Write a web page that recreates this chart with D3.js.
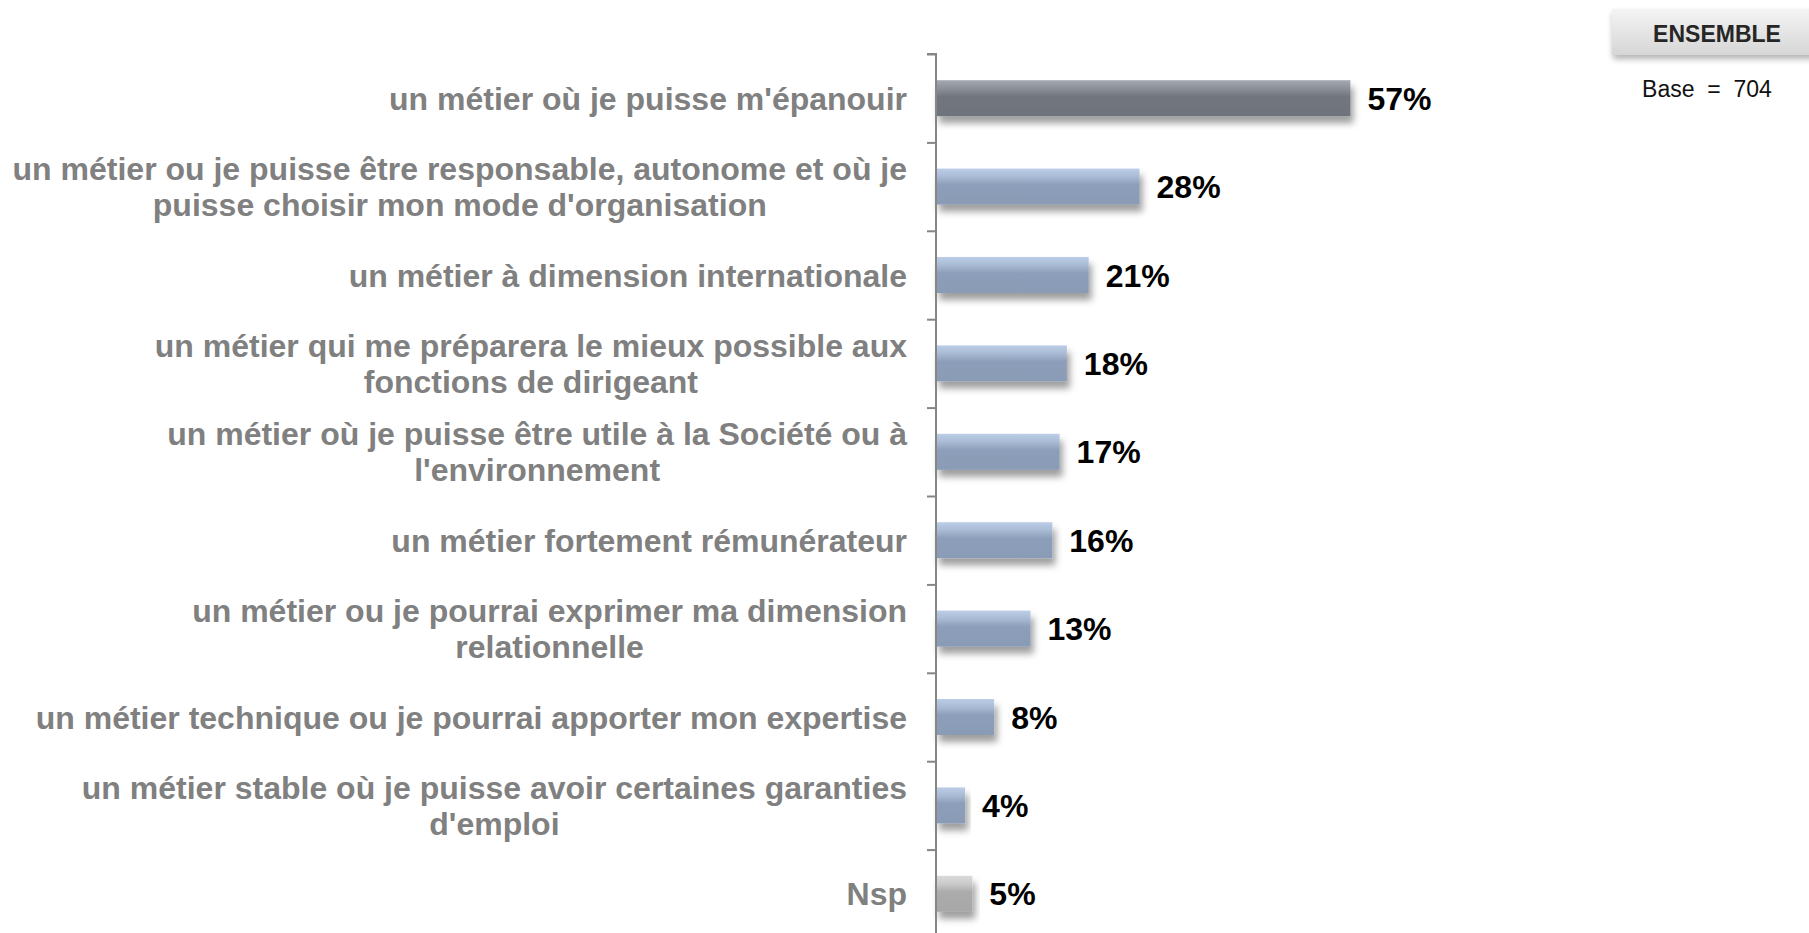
<!DOCTYPE html>
<html>
<head>
<meta charset="utf-8">
<script src="https://cdn.jsdelivr.net/npm/d3@7"></script>
<style>
  html, body { margin: 0; padding: 0; background: #ffffff; }
  svg { display: block; }
  text { font-family: "Liberation Sans", Arial, sans-serif; }
</style>
</head>
<body>
<svg id="chart" width="1809" height="933"></svg>
<script>
// ---- Data ----
const categories = [
  "un métier où je puisse m'épanouir",
  "un métier ou je puisse être responsable, autonome et où je\npuisse choisir mon mode d'organisation",
  "un métier à dimension internationale",
  "un métier qui me préparera le mieux possible aux\nfonctions de dirigeant",
  "un métier où je puisse être utile à la Société ou à\nl'environnement",
  "un métier fortement rémunérateur",
  "un métier ou je pourrai exprimer ma dimension\nrelationnelle",
  "un métier technique ou je pourrai apporter mon expertise",
  "un métier stable où je puisse avoir certaines garanties\nd'emploi",
  "Nsp"
];
const values = [57, 28, 21, 18, 17, 16, 13, 8, 4, 5];
const valueLabels = ["57%", "28%", "21%", "18%", "17%", "16%", "13%", "8%", "4%", "5%"];
const headerLabel = "ENSEMBLE";
const baseLabel = "Base  =  704";

// ---- Layout ----
const svg = d3.select("#chart");
const axisX = 936;
const plotTop = 54;
const step = 88.4;
const plotBottom = plotTop + step * categories.length;

const x = d3.scaleLinear().domain([0, 100]).range([axisX, axisX + 727]);
const y = d3.scaleBand().domain(d3.range(categories.length)).range([plotTop, plotBottom]).padding(0);
const yIdx = d3.scaleLinear().domain([0, categories.length]).range([plotTop, plotBottom]);
const barH = 36;

// ---- Defs ----
const defs = svg.append("defs");
function grad(id, stops) {
  const g = defs.append("linearGradient").attr("id", id)
    .attr("x1", 0).attr("y1", 0).attr("x2", 0).attr("y2", 1);
  stops.forEach(s => g.append("stop").attr("offset", s[0]).attr("stop-color", s[1]));
}
grad("gBlue", [[0, "#bccde8"], [0.22, "#aabbd6"], [0.45, "#8d9eba"], [1, "#8a9bb6"]]);
grad("gDark", [[0, "#a3a8b1"], [0.22, "#8c919a"], [0.45, "#71767f"], [1, "#6e737c"]]);
grad("gGray", [[0, "#dadada"], [0.22, "#cbcbcb"], [0.45, "#ababab"], [1, "#a8a8a8"]]);
grad("gBox", [[0, "#f4f4f4"], [1, "#d6d6d6"]]);

const f = defs.append("filter").attr("id", "shadow")
  .attr("x", "-10%").attr("y", "-30%").attr("width", "130%").attr("height", "180%");
f.append("feDropShadow").attr("dx", 3).attr("dy", 7).attr("stdDeviation", 3.5)
  .attr("flood-color", "#000").attr("flood-opacity", 0.38);

const fb = defs.append("filter").attr("id", "boxshadow")
  .attr("x", "-10%").attr("y", "-30%").attr("width", "130%").attr("height", "180%");
fb.append("feDropShadow").attr("dx", 1).attr("dy", 4).attr("stdDeviation", 3)
  .attr("flood-color", "#000").attr("flood-opacity", 0.3);

// ---- Bars ----
const fillFor = i => i === 0 ? "url(#gDark)" : (i === categories.length - 1 ? "url(#gGray)" : "url(#gBlue)");

svg.append("g").selectAll("rect").data(values).join("rect")
  .attr("x", x(0))
  .attr("y", (d, i) => y(i) + (y.bandwidth() - barH) / 2)
  .attr("width", d => x(d) - x(0))
  .attr("height", barH)
  .attr("fill", (d, i) => fillFor(i))
  .attr("filter", "url(#shadow)");

// ---- Axis ----
const axis = d3.axisLeft(yIdx).tickValues(d3.range(categories.length + 1)).tickSize(9).tickFormat("");
const ag = svg.append("g").attr("transform", `translate(${axisX},0)`).call(axis);
ag.select(".domain").attr("d", `M-9,${plotTop}H0V${plotBottom}`).attr("stroke", "#868686").attr("stroke-width", 2);
ag.selectAll(".tick line").attr("stroke", "#868686").attr("stroke-width", 2);

// ---- Value labels ----
svg.append("g").selectAll("text").data(values).join("text")
  .attr("x", d => x(d) + 17)
  .attr("y", (d, i) => y(i) + y.bandwidth() / 2)
  .attr("dy", "0.36em")
  .attr("font-size", 32)
  .attr("font-weight", "bold")
  .attr("fill", "#000")
  .text((d, i) => valueLabels[i]);

// ---- Category labels ----
const labelRight = 907;
const lineGap = 36;
const lg = svg.append("g");
categories.forEach((c, i) => {
  const lines = c.split("\n");
  const cy = y(i) + y.bandwidth() / 2;
  const t = lg.append("text")
    .attr("font-size", 32)
    .attr("font-weight", "bold")
    .attr("fill", "#808080")
    .attr("text-anchor", "middle");
  const tspans = lines.map((ln, k) => t.append("tspan")
    .attr("y", cy + (k - (lines.length - 1) / 2) * lineGap)
    .attr("dy", "0.36em")
    .text(ln));
  const w = d3.max(tspans, ts => ts.node().getComputedTextLength());
  tspans.forEach(ts => ts.attr("x", labelRight - w / 2));
});

// ---- Header box ----
svg.append("rect")
  .attr("x", 1612).attr("y", 9).attr("width", 220).attr("height", 46)
  .attr("fill", "url(#gBox)")
  .attr("filter", "url(#boxshadow)");
svg.append("text")
  .attr("x", 1717).attr("y", 42)
  .attr("text-anchor", "middle")
  .attr("font-size", 23).attr("font-weight", "bold").attr("fill", "#262626")
  .text(headerLabel);
svg.append("text")
  .attr("x", 1707).attr("y", 97)
  .attr("text-anchor", "middle")
  .attr("font-size", 23).attr("fill", "#111")
  .style("white-space", "pre")
  .text(baseLabel);
</script>
</body>
</html>
